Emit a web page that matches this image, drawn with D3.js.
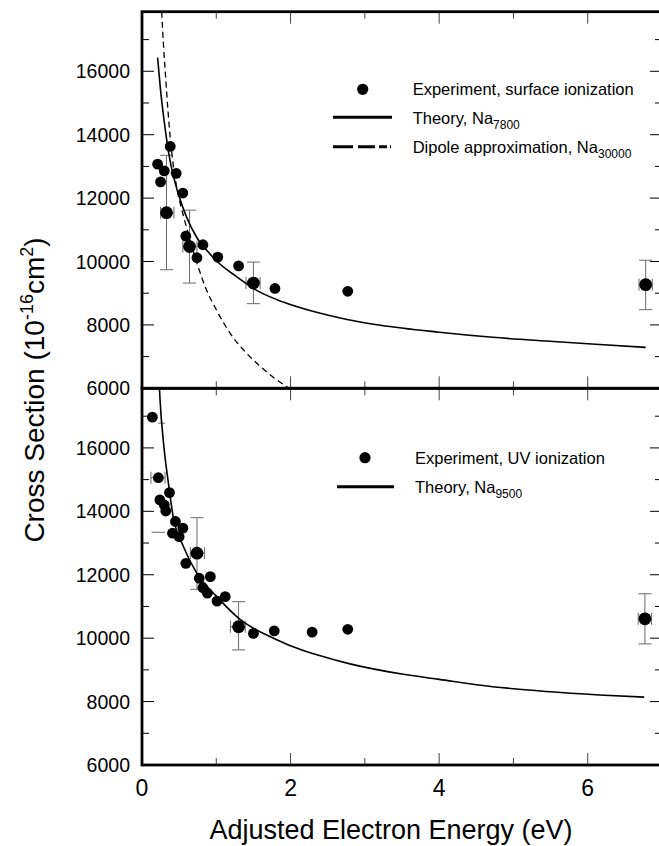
<!DOCTYPE html>
<html>
<head>
<meta charset="utf-8">
<script src="https://cdn.jsdelivr.net/npm/d3@7"></script>
<style>
  body { margin: 0; background: #fff; }
  svg { font-family: "Liberation Sans", Arial, sans-serif; }
</style>
</head>
<body>
<svg id="chart" width="659" height="846"></svg>
<script>
// ---- data ----
// top panel: surface ionization
var topX = [0.21, 0.25, 0.30, 0.38, 0.33, 0.46, 0.55, 0.59, 0.64, 0.74, 0.82, 1.02, 1.30, 1.50, 1.79, 2.77, 6.78];
var topY = [13070, 12510, 12860, 13630, 11540, 12780, 12160, 10800, 10470, 10120, 10530, 10140, 9860, 9320, 9150, 9060, 9270];
// vertical error bars
var topEvX = [0.33, 0.64, 1.50, 6.78];
var topEvLo = [9740, 9320, 8670, 8480];
var topEvHi = [13350, 11620, 9980, 10040];
// horizontal error bars
var topEhY = [11540, 10470, 9320, 9270];
var topEhLo = [0.25, 0.55, 1.40, 6.69];
var topEhHi = [0.43, 0.74, 1.59, 6.87];
// theory Na7800
var topThX = [0.21, 0.25, 0.30, 0.377, 0.45, 0.51, 0.60, 0.74, 0.88, 1.03, 1.25, 1.55, 1.90, 2.31, 2.76, 3.21, 4.00, 4.72, 5.44, 6.16, 6.78];
var topThY = [16430, 15400, 14400, 13190, 12450, 11980, 11400, 10750, 10330, 9960, 9560, 9080, 8720, 8420, 8170, 7990, 7770, 7610, 7490, 7380, 7290];
// dipole approximation Na30000
var dipX = [0.265, 0.29, 0.32, 0.35, 0.38, 0.42, 0.467, 0.557, 0.65, 0.74, 0.87, 1.00, 1.19, 1.37, 1.55, 1.75, 1.98];
var dipY = [17880, 16800, 15750, 14750, 13900, 13050, 12350, 11450, 10650, 9950, 9090, 8480, 7725, 7200, 6780, 6380, 6000];

// bottom panel: UV ionization
var botX = [0.14, 0.22, 0.37, 0.24, 0.30, 0.32, 0.45, 0.55, 0.41, 0.50, 0.74, 0.59, 0.77, 0.92, 0.82, 0.88, 1.01, 1.12, 1.30, 1.50, 1.78, 2.29, 2.77, 6.77];
var botY = [16970, 15060, 14590, 14360, 14200, 14010, 13680, 13470, 13310, 13200, 12680, 12360, 11890, 11940, 11590, 11420, 11170, 11310, 10360, 10150, 10230, 10190, 10280, 10610];
var botEvX = [0.74, 1.30, 6.77];
var botEvLo = [11540, 9630, 9820];
var botEvHi = [13800, 11150, 11400];
var botEhY = [15060, 12680, 10360, 10610];
var botEhLo = [0.12, 0.65, 1.19, 6.68];
var botEhHi = [0.31, 0.84, 1.39, 6.86];
// bits of horizontal bars showing beside points (no caps visible)
var botSegY = [16780, 13340];
var botSegLo = [0.22, 0.13];
var botSegHi = [0.31, 0.31];
// theory Na9500
var botThX = [0.235, 0.243, 0.29, 0.355, 0.42, 0.557, 0.737, 1.007, 1.32, 1.77, 2.17, 2.32, 2.80, 3.52, 4.00, 4.72, 5.44, 6.16, 6.76];
var botThY = [17880, 17510, 16150, 14890, 13830, 12890, 12050, 11310, 10590, 10000, 9610, 9500, 9190, 8860, 8700, 8470, 8320, 8210, 8140];

var xTicks = [0, 1, 2, 3, 4, 5, 6, 7];
var xLabels = [0, 2, 4, 6];
var yTicks = [6000, 7000, 8000, 9000, 10000, 11000, 12000, 13000, 14000, 15000, 16000, 17000];
var yLabels = [6000, 8000, 10000, 12000, 14000, 16000];

// ---- layout ----
var svg = d3.select("#chart");
var left = 142, right = 662;
var x = d3.scaleLinear().domain([0, 7]).range([left, right]);

var panels = [
  { top: 11.7, bottom: 388.3, pts: [topX, topY], ev: [topEvX, topEvLo, topEvHi], eh: [topEhY, topEhLo, topEhHi],
    seg: [[], [], []], big: [0.33, 0.64, 1.50, 6.78] },
  { top: 388.3, bottom: 765, pts: [botX, botY], ev: [botEvX, botEvLo, botEvHi], eh: [botEhY, botEhLo, botEhHi],
    seg: [botSegY, botSegLo, botSegHi], big: [0.74, 1.30, 6.77] }
];

panels.forEach(function (p, i) {
  p.y = d3.scaleLinear().domain([6000, 17880]).range([p.bottom, p.top]);
  var g = svg.append("g");

  svg.append("clipPath").attr("id", "clip" + i)
    .append("rect").attr("x", left).attr("y", p.top).attr("width", right - left).attr("height", p.bottom - p.top);

  // ticks on all four sides, pointing inward
  var tk = g.append("g").attr("stroke", "#444").attr("stroke-width", 1);
  xTicks.forEach(function (t) {
    var len = t % 2 === 0 ? 12 : 7;
    tk.append("line").attr("x1", x(t)).attr("x2", x(t)).attr("y1", p.bottom).attr("y2", p.bottom - len);
    tk.append("line").attr("x1", x(t)).attr("x2", x(t)).attr("y1", p.top).attr("y2", p.top + len);
  });
  yTicks.forEach(function (t) {
    var len = (t / 1000) % 2 === 0 ? 12 : 7;
    tk.append("line").attr("x1", left).attr("x2", left + len).attr("y1", p.y(t)).attr("y2", p.y(t)).attr("stroke", "#000");
    tk.append("line").attr("x1", right).attr("x2", right - len).attr("y1", p.y(t)).attr("y2", p.y(t)).attr("stroke", "#000");
  });

  // y labels
  g.selectAll(".yl").data(yLabels).enter().append("text")
    .attr("x", 130).attr("y", function (d) { return p.y(d); })
    .attr("dy", "0.36em").attr("text-anchor", "end")
    .attr("font-size", 19.5).text(function (d) { return d; });

  // error bars
  var eb = g.append("g").attr("stroke", "#6a6a6a").attr("stroke-width", 1).attr("fill", "none");
  p.ev[0].forEach(function (ex, k) {
    var lo = p.y(p.ev[1][k]), hi = p.y(p.ev[2][k]), cx = x(ex);
    eb.append("line").attr("x1", cx).attr("x2", cx).attr("y1", lo).attr("y2", hi);
    eb.append("line").attr("x1", cx - 6.5).attr("x2", cx + 6.5).attr("y1", lo).attr("y2", lo);
    eb.append("line").attr("x1", cx - 6.5).attr("x2", cx + 6.5).attr("y1", hi).attr("y2", hi);
  });
  p.eh[0].forEach(function (ey, k) {
    var cy = p.y(ey), lo = x(p.eh[1][k]), hi = x(p.eh[2][k]);
    eb.append("line").attr("x1", lo).attr("x2", hi).attr("y1", cy).attr("y2", cy);
    eb.append("line").attr("x1", lo).attr("x2", lo).attr("y1", cy - 6).attr("y2", cy + 6);
    eb.append("line").attr("x1", hi).attr("x2", hi).attr("y1", cy - 6).attr("y2", cy + 6);
  });
  p.seg[0].forEach(function (sy, k) {
    eb.append("line").attr("x1", x(p.seg[1][k])).attr("x2", x(p.seg[2][k]))
      .attr("y1", p.y(sy)).attr("y2", p.y(sy));
  });

  p.g = g;
});

var line = d3.line()
  .x(function (d) { return x(d[0]); })
  .y(function (d) { return d[1]; })
  .curve(d3.curveMonotoneX);

function drawCurve(p, i, xs, ys, dash, w) {
  var pts = xs.map(function (v, k) { return [v, p.y(ys[k])]; });
  p.g.append("path").attr("d", line(pts))
    .attr("clip-path", "url(#clip" + i + ")")
    .attr("fill", "none").attr("stroke", "#000").attr("stroke-width", w)
    .attr("stroke-dasharray", dash);
}

drawCurve(panels[0], 0, topThX, topThY, null, 1.6);
drawCurve(panels[0], 0, dipX, dipY, "6,4", 1.3);
drawCurve(panels[1], 1, botThX, botThY, null, 1.6);

// points
panels.forEach(function (p) {
  p.g.selectAll(".pt").data(p.pts[0]).enter().append("circle")
    .attr("cx", function (d) { return x(d); })
    .attr("cy", function (d, k) { return p.y(p.pts[1][k]); })
    .attr("r", function (d) { return p.big.indexOf(d) >= 0 ? 6.4 : 5.4; })
    .attr("fill", "#000");
});

// frames
panels.forEach(function (p) {
  svg.append("rect").attr("x", left).attr("y", p.top)
    .attr("width", right - left).attr("height", p.bottom - p.top)
    .attr("fill", "none").attr("stroke", "#000").attr("stroke-width", 2.8);
});

// x labels
svg.selectAll(".xl").data(xLabels).enter().append("text")
  .attr("x", function (d) { return x(d); }).attr("y", 796)
  .attr("text-anchor", "middle").attr("font-size", 23).text(function (d) { return d; });

// axis titles
svg.append("text").attr("x", 391).attr("y", 839).attr("text-anchor", "middle")
  .attr("font-size", 27).text("Adjusted Electron Energy (eV)");

var yt = svg.append("text").attr("transform", "translate(44,390) rotate(-90)")
  .attr("text-anchor", "middle").attr("font-size", 28);
yt.append("tspan").text("Cross Section (10");
yt.append("tspan").attr("font-size", 18).attr("dy", -11).text("-16");
yt.append("tspan").attr("dy", 11).text("cm");
yt.append("tspan").attr("font-size", 18).attr("dy", -11).text("2");
yt.append("tspan").attr("dy", 11).text(")");

// legends
function legendText(xp, yp, main, sub) {
  var t = svg.append("text").attr("x", xp).attr("y", yp).attr("font-size", 16.5);
  t.append("tspan").text(main);
  if (sub) t.append("tspan").attr("font-size", 12).attr("dy", 5).text(sub);
}
svg.append("circle").attr("cx", 362.7).attr("cy", 89.3).attr("r", 5.6).attr("fill", "#000");
legendText(412.7, 95, "Experiment, surface ionization");
svg.append("line").attr("x1", 333).attr("x2", 392).attr("y1", 117.3).attr("y2", 117.3)
  .attr("stroke", "#000").attr("stroke-width", 3);
legendText(412.7, 124, "Theory, Na", "7800");
svg.append("line").attr("x1", 333).attr("x2", 392).attr("y1", 146.7).attr("y2", 146.7)
  .attr("stroke", "#000").attr("stroke-width", 3).attr("stroke-dasharray", "20,5,17,4,8,3,1,100");
legendText(412.7, 153, "Dipole approximation, Na", "30000");

svg.append("circle").attr("cx", 365).attr("cy", 457.7).attr("r", 5.6).attr("fill", "#000");
legendText(415, 464, "Experiment, UV ionization");
svg.append("line").attr("x1", 337).attr("x2", 394).attr("y1", 486.7).attr("y2", 486.7)
  .attr("stroke", "#000").attr("stroke-width", 3);
legendText(415, 493, "Theory, Na", "9500");
</script>
</body>
</html>
